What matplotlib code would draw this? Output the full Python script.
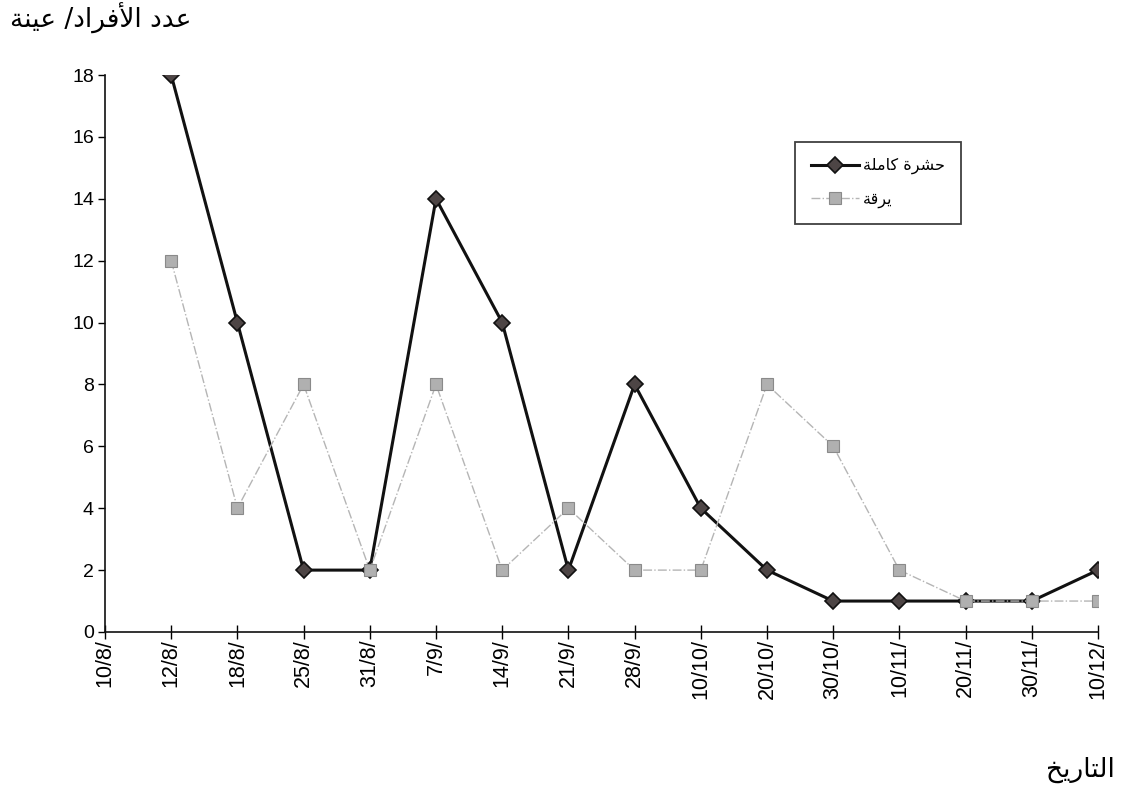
import matplotlib
matplotlib.use("Agg")
import matplotlib.pyplot as plt
import numpy as np

# sampling dates (first one has no counts)
dates = ["10/8/", "12/8/", "18/8/", "25/8/", "31/8/", "7/9/", "14/9/", "21/9/",
         "28/9/", "10/10/", "20/10/", "30/10/", "10/11/", "20/11/", "30/11/", "10/12/"]

# individuals per sample, from 12/8 onwards
adults = [18, 10, 2, 2, 14, 10, 2, 8, 4, 2, 1, 1, 1, 1, 2]
larvae = [12, 4, 8, 2, 8, 2, 4, 2, 2, 8, 6, 2, 1, 1, 1]

yticks = [0, 2, 4, 6, 8, 10, 12, 14, 16, 18]

ylabel_txt = "عدد الأفراد/ عينة"
xlabel_txt = "التاريخ"
adults_txt = "حشرة كاملة"
larvae_txt = "يرقة"

# contextual forms: isolated, final[, initial, medial]
FORMS = {
    "ا": ("\ufe8d", "\ufe8e"), "أ": ("\ufe83", "\ufe84"),
    "د": ("\ufea9", "\ufeaa"), "ر": ("\ufead", "\ufeae"),
    "ة": ("\ufe93", "\ufe94"),
    "لا": ("\ufefb", "\ufefc"), "لأ": ("\ufef7", "\ufef8"),
    "ع": ("\ufec9", "\ufeca", "\ufecb", "\ufecc"),
    "ل": ("\ufedd", "\ufede", "\ufedf", "\ufee0"),
    "ف": ("\ufed1", "\ufed2", "\ufed3", "\ufed4"),
    "ي": ("\ufef1", "\ufef2", "\ufef3", "\ufef4"),
    "ن": ("\ufee5", "\ufee6", "\ufee7", "\ufee8"),
    "ح": ("\ufea1", "\ufea2", "\ufea3", "\ufea4"),
    "ش": ("\ufeb5", "\ufeb6", "\ufeb7", "\ufeb8"),
    "م": ("\ufee1", "\ufee2", "\ufee3", "\ufee4"),
    "ك": ("\ufed9", "\ufeda", "\ufedb", "\ufedc"),
    "ق": ("\ufed5", "\ufed6", "\ufed7", "\ufed8"),
    "خ": ("\ufea5", "\ufea6", "\ufea7", "\ufea8"),
    "ت": ("\ufe95", "\ufe96", "\ufe97", "\ufe98"),
}


def shape(text):
    # join letters and reverse them, since matplotlib lays text out left to right
    toks = []
    i = 0
    while i < len(text):
        if text[i] == "ل" and text[i + 1:i + 2] in ("ا", "أ"):
            toks.append(text[i:i + 2])
            i += 2
        else:
            toks.append(text[i])
            i += 1
    out = []
    for k, t in enumerate(toks):
        f = FORMS.get(t)
        if f is None:
            out.append(t)
            continue
        prev = FORMS.get(toks[k - 1]) if k > 0 else None
        nxt = FORMS.get(toks[k + 1]) if k + 1 < len(toks) else None
        a = prev is not None and len(prev) == 4
        b = nxt is not None and len(f) == 4
        out.append(f[int(a) + 2 * int(b)])
    return "".join(reversed(out))


plt.rcParams["font.family"] = ["Liberation Sans", "DejaVu Sans"]

fig = plt.figure(figsize=(11.43, 7.92), dpi=100)
ax = fig.add_axes([105 / 1143, 1 - 632 / 792, 993 / 1143, 557 / 792])

x = np.arange(1, len(dates))
ax.plot(x, adults, color="#111111", lw=2.2,
        marker="D", ms=8, mfc="#4d4545", mec="#111111", mew=1.2,
        label=shape(adults_txt), zorder=3)
ax.plot(x, larvae, color="#b5b5b5", lw=1.0, ls="-.",
        marker="s", ms=8, mfc="#b0b0b0", mec="#8a8a8a", mew=0.8,
        label=shape(larvae_txt), zorder=4)

ax.set_xlim(0, len(dates) - 1)
ax.set_ylim(0, 18)
ax.set_yticks(yticks)
ax.set_xticks(np.arange(len(dates)))
ax.set_xticklabels(dates, rotation=90)

for s in ("top", "right"):
    ax.spines[s].set_visible(False)
for s in ("left", "bottom"):
    ax.spines[s].set_linewidth(1.2)
    ax.spines[s].set_color("#111111")

ax.tick_params(axis="y", direction="out", length=5, width=1, labelsize=14, pad=3)
ax.tick_params(axis="x", direction="inout", length=10, width=1, labelsize=15.5, pad=0)

leg = ax.legend(loc="upper left",
                bbox_to_anchor=(795 / 1143, 1 - 142 / 792),
                bbox_transform=fig.transFigure, borderaxespad=0,
                prop={"family": "DejaVu Sans", "size": 11.5}, fancybox=False,
                frameon=True, handlelength=3.0, handletextpad=0.25,
                borderpad=1.0, labelspacing=1.1, numpoints=1)
leg.get_frame().set_edgecolor("#111111")
leg.get_frame().set_linewidth(1.3)

fig.text(10 / 1143, 1 - 18 / 792, shape(ylabel_txt), fontsize=19,
         family="DejaVu Sans", ha="left", va="center")
fig.text(1115 / 1143, 1 - 770 / 792, shape(xlabel_txt), fontsize=19,
         family="DejaVu Sans", ha="right", va="center")

fig.savefig("out.png", dpi=100, facecolor="white")
